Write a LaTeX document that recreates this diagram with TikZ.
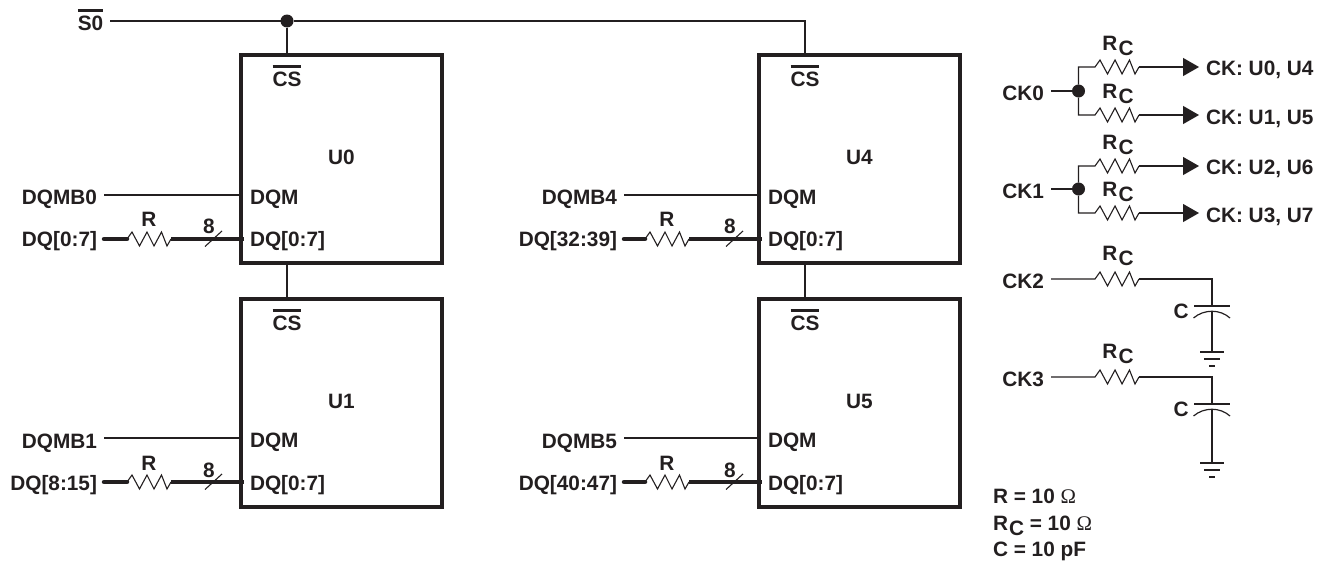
\documentclass[tikz,border=0pt]{standalone}
\usepackage{fontspec}
\setmainfont{Liberation Sans}
\newfontfamily\omgfont{Liberation Serif}
\usetikzlibrary{arrows.meta}
\definecolor{ink}{HTML}{231F20}
\newcommand\ovl[1]{\vbox{\hrule height 3pt\kern 3.5pt\hbox{#1}}}
\newcommand\rcsub{R\raisebox{-5pt}{\kern1pt C}}
\newcommand\omg{{\omgfont\mdseries\char"03A9}}
\newcommand\zz{-- ++(5,-7) -- ++(7.5,14) -- ++(7.5,-14) -- ++(7,14) -- ++(7.5,-14) -- ++(5.5,14) -- ++(4,-7)}
\tikzset{
  lab/.style={inner sep=0pt,outer sep=0pt,text=ink,font=\fontsize{20.8}{24}\selectfont\bfseries},
  chip/.style={draw=ink,line width=3.5pt,minimum width=201pt,minimum height=208pt,inner sep=0pt,outer sep=0pt,anchor=north west},
  thinw/.style={draw=ink,line width=1.1pt},
  thickw/.style={draw=ink,line width=4.5pt},
  jdot/.style={circle,fill=ink,inner sep=0pt,outer sep=0pt,minimum size=13pt},
  plate/.style={draw=ink,line width=1.2pt},
  arroww/.style={draw=ink,line width=1.1pt,-{Triangle[length=16pt,width=18pt,fill=ink]}}
}
\begin{document}
\begin{tikzpicture}[x=1pt,y=-1pt]
\useasboundingbox (0,0) rectangle (1325,562);
% chips
\node[chip] (u0) at (241,55) {};
\node[chip] (u1) at (241,299) {};
\node[chip] (u4) at (759,55) {};
\node[chip] (u5) at (759,299) {};
\node[lab,anchor=base] (u0t) at (341.5,164) {U0};
\node[lab,anchor=base] (u1t) at (341.5,408) {U1};
\node[lab,anchor=base] (u4t) at (859.5,164) {U4};
\node[lab,anchor=base] (u5t) at (859.5,408) {U5};
% S0 net
\node[lab,anchor=base] (s0) at (90.5,30.5) {\ovl{S0}};
\coordinate (s0p) at (110,21);
\node[jdot] (j0) at (287,21) {};
\coordinate (c0) at (287,55);
\coordinate (c1) at (287,299);
\coordinate (c0b) at (287,263);
\coordinate (c4) at (805,55);
\coordinate (c5) at (805,299);
\coordinate (c4b) at (805,263);
\draw[thinw] (s0p) -- (j0) -- (805,21) -- (c4);
\draw[thinw] (j0) -- (c0);
\draw[thinw] (c0b) -- (c1);
\draw[thinw] (c4b) -- (c5);
% CS labels
\node[lab,anchor=base] (cs0) at (287,86) {\ovl{CS}};
\node[lab,anchor=base] (cs1) at (287,330) {\ovl{CS}};
\node[lab,anchor=base] (cs4) at (805,86) {\ovl{CS}};
\node[lab,anchor=base] (cs5) at (805,330) {\ovl{CS}};
% per-chip pins: \lx = outer label shift, \sx = bus-width mark shift, \wy = wire y shift
\foreach \nm/\ox/\oy/\ml/\dl/\lx/\sx/\wy in {0/0/0/DQMB0/DQ[0:7]/0/0/0,1/0/244/DQMB1/DQ[8:15]/0/0/-1,4/518/0/DQMB4/DQ[32:39]/2/3/0,5/518/244/DQMB5/DQ[40:47]/2/3/-1}{
  \begin{scope}[shift={(\ox,\oy)}]
    \node[lab,anchor=base east] (m\nm) at (97+\lx,204) {\ml};
    \node[lab,anchor=base east] (d\nm) at (97+\lx,246.5) {\dl};
    \node[lab,anchor=base west] (im\nm) at (250,204+\wy) {DQM};
    \node[lab,anchor=base west] (id\nm) at (250,246.5) {DQ[0:7]};
    \node[lab,anchor=base] (r\nm) at (149,226) {R};
    \node[lab,anchor=base] (w\nm) at (209+\sx,233) {8};
    \coordinate (ms\nm) at (104+\lx,195+\wy);
    \coordinate (me\nm) at (241,195+\wy);
    \coordinate (ds\nm) at (104+\lx,239+\wy);
    \coordinate (ra\nm) at (127,239+\wy);
    \coordinate (rb\nm) at (171,239+\wy);
    \coordinate (de\nm) at (244,239+\wy);
    \draw[thinw] (ms\nm) -- (me\nm);
    \draw[thickw,line cap=round] (ds\nm) -- (ra\nm);
    \draw[thinw,line join=miter] (ra\nm) \zz;
    \draw[thickw] (rb\nm) -- (de\nm);
    \draw[thinw] (205+\sx,246.5+\wy) -- (222+\sx,231+\wy);
  \end{scope}
}
% CK0 / CK1 clock nets
\foreach \nm/\lb/\ym/\yu/\yl/\tu/\tl in {a/CK0/91/67/115/{CK: U0, U4}/{CK: U1, U5},b/CK1/189/166/213/{CK: U2, U6}/{CK: U3, U7}}{
  \node[lab,anchor=base east] (ck\nm) at (1044,\ym+9) {\lb};
  \coordinate (cks\nm) at (1051,\ym);
  \node[jdot] (ckj\nm) at (1078.5,\ym) {};
  \draw[thinw] (cks\nm) -- (ckj\nm);
  \coordinate (ua\nm) at (1095,\yu);
  \coordinate (ub\nm) at (1139,\yu);
  \coordinate (ut\nm) at (1199,\yu);
  \coordinate (la\nm) at (1095,\yl);
  \coordinate (lb\nm) at (1139,\yl);
  \coordinate (lt\nm) at (1199,\yl);
  \draw[thinw] (ckj\nm) -- (1078.5,\yu) -- (ua\nm) \zz;
  \draw[thinw] (ckj\nm) -- (1078.5,\yl) -- (la\nm) \zz;
  \draw[arroww] (ub\nm) -- (ut\nm);
  \draw[arroww] (lb\nm) -- (lt\nm);
  \node[lab,anchor=base] (rcu\nm) at (1118,\yu-17) {\rcsub};
  \node[lab,anchor=base] (rcl\nm) at (1118,\yl-17) {\rcsub};
  \node[lab,anchor=base west] (tu\nm) at (1206,\yu+8.5) {\tu};
  \node[lab,anchor=base west] (tl\nm) at (1206,\yl+9.5) {\tl};
}
% CK2 / CK3 capacitor nets
\foreach \nm/\lb/\yy/\gnd in {c/CK2/279/352,d/CK3/377/463}{
  \node[lab,anchor=base east] (ck\nm) at (1044,\yy+9.5) {\lb};
  \coordinate (cks\nm) at (1051,\yy);
  \coordinate (ra\nm) at (1095,\yy);
  \coordinate (rb\nm) at (1139,\yy);
  \coordinate (pt\nm) at (1212,\yy+27);
  \coordinate (pb\nm) at (1212,\yy+32);
  \coordinate (g\nm) at (1212,\gnd);
  \draw[thinw] (cks\nm) -- (ra\nm) \zz;
  \draw[thinw] (rb\nm) -- (1212,\yy) -- (pt\nm);
  \draw[thinw] (pb\nm) -- (g\nm);
  \draw[plate] (1194,\yy+27) -- (1230,\yy+27);
  \draw[plate] (1193.5,\yy+39) .. controls (1204,\yy+30) and (1220,\yy+30) .. (1230,\yy+39);
  \draw[plate] (1200,\gnd) -- (1224,\gnd);
  \draw[plate] (1204,\gnd+7) -- (1220,\gnd+7);
  \draw[plate] (1209,\gnd+14) -- (1215,\gnd+14);
  \node[lab,anchor=base] (rc\nm) at (1118,\yy-19) {\rcsub};
  \node[lab,anchor=base] (cl\nm) at (1181,\yy+39.5) {C};
}
% legend
\node[lab,anchor=base west] (lg1) at (993,503) {R = 10 \omg};
\node[lab,anchor=base west] (lg2) at (993,530) {\rcsub\ = 10 \omg};
\node[lab,anchor=base west] (lg3) at (993,556) {C = 10 pF};
\end{tikzpicture}
\end{document}
